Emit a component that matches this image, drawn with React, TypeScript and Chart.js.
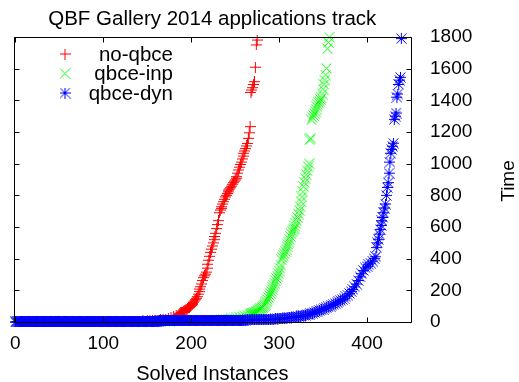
import React, { useEffect, useRef } from "react";
import { Chart, registerables } from "chart.js";

Chart.register(...registerables);

const FONT = '"Liberation Sans", Arial, Helvetica, sans-serif';

const chartTitle = "QBF Gallery 2014 applications track";
const xAxisTitle = "Solved Instances";
const yAxisTitle = "Time";
const xTickValues = [0, 100, 200, 300, 400];
const yTickValues = [0, 200, 400, 600, 800, 1000, 1200, 1400, 1600, 1800];
const xMin = -2;
const xMax = 450;
const yMin = 0;
const yMax = 1800;

const seriesNames = ["no-qbce", "qbce-inp", "qbce-dyn"];
const seriesColors = ["#ff0000", "#00ff00", "#0000ff"];

const noQbceX = [
  0, 5, 10, 15, 20, 25, 30, 35, 40, 45, 50, 55, 60, 65, 70, 75, 80, 85, 90, 95,
  100, 105, 110, 115, 120, 125, 130, 135, 140, 145,
  150, 153, 156, 159, 162, 165, 168, 171, 174, 177, 180, 183,
  185, 186, 187, 188, 189, 190, 191, 192, 193, 194, 195, 196, 197, 198, 199,
  200, 201, 202, 203, 204, 205, 206, 207, 208, 209,
  210, 211, 212, 213, 214, 215, 216, 217, 218, 219,
  220, 221, 222, 223, 224, 225, 226, 227, 228, 229,
  230, 231, 232, 233, 234, 235, 236, 237, 238, 239,
  240, 241, 242, 243, 244, 245, 246, 247, 248, 249,
  250, 251, 252, 253, 254, 255, 256, 257, 258, 259,
  260, 261, 262, 263, 264, 265, 266, 267, 268, 269,
  270, 271, 272, 273, 274, 275,
];
const noQbceY = [
  0.1, 0.2, 0.2, 0.3, 0.4, 0.5, 0.6, 0.7, 0.8, 1.0, 1.1, 1.3, 1.5, 1.7, 1.9, 2.1, 2.3, 2.5, 2.8, 3.0,
  3.3, 3.6, 3.9, 4.2, 4.5, 4.9, 5.3, 5.7, 6.1, 6.6,
  8, 9, 10, 11, 12, 14, 15, 18, 22, 28, 33, 39,
  44, 48, 52, 57, 60, 63, 67, 71, 75, 79, 82, 85, 89, 93, 97,
  104, 110, 118, 125, 133, 141, 150, 160, 176, 192,
  208, 223, 240, 262, 280, 292, 302, 315, 340, 365,
  390, 415, 440, 460, 480, 500, 520, 540, 560, 590,
  615, 640, 690, 707, 718, 728, 745, 760, 775, 790,
  800, 812, 822, 833, 840, 848, 858, 870, 880, 890,
  898, 908, 918, 940, 960, 978, 995, 1010, 1030, 1048,
  1066, 1080, 1095, 1112, 1128, 1160, 1195, 1234, 1450, 1465,
  1480, 1500, 1518, 1609, 1750, 1781,
];

const qbceInpX = [
  0, 5, 10, 15, 20, 25, 30, 35, 40, 45, 50, 55, 60, 65, 70, 75, 80, 85, 90, 95,
  100, 105, 110, 115, 120, 125, 130, 135, 140, 145, 150, 155, 160, 165, 170, 175, 180, 185, 190, 195,
  200, 205, 210, 215, 220, 225, 230,
  234, 237, 240, 243, 246, 249, 252, 255, 258, 261, 264, 267,
  268, 269, 270, 271, 272, 273, 274, 275, 276, 277,
  278, 279, 280, 281, 282, 283, 284, 285, 286, 287,
  288, 289, 290, 291, 292, 293, 294, 295, 296, 297,
  298, 299, 300, 301, 302, 303, 304, 305, 306, 307,
  308, 309, 310, 311, 312, 313, 314, 315, 316, 317,
  318, 319, 320, 321, 322, 323, 324, 325, 326, 327,
  328, 329, 330, 331, 332, 333, 334, 335, 336, 337,
  338, 339, 340, 341, 342, 343, 344, 345, 346, 347,
  348, 349, 350, 351, 352, 353, 354, 355, 356, 357,
];
const qbceInpY = [
  0.1, 0.1, 0.2, 0.2, 0.3, 0.3, 0.4, 0.5, 0.5, 0.6, 0.7, 0.8, 0.9, 1.0, 1.1, 1.2, 1.3, 1.5, 1.6, 1.8,
  2.0, 2.2, 2.4, 2.6, 2.8, 3.0, 3.3, 3.6, 3.9, 4.2, 4.5, 4.8, 5.1, 5.5, 5.9, 6.3, 6.7, 7.1, 7.5, 8.0,
  8.5, 9.0, 9.5, 10, 10.5, 11, 11.5,
  13, 14, 16, 18, 20, 23, 26, 30, 35, 39, 44, 48,
  50, 52, 53, 55, 58, 62, 65, 68, 71, 75,
  79, 83, 87, 92, 97, 105, 112, 121, 130, 142,
  155, 168, 181, 193, 206, 218, 232, 246, 260, 275,
  290, 306, 322, 340, 360, 392, 405, 418, 430, 445,
  460, 476, 490, 505, 520, 540, 556, 570, 582, 592,
  602, 620, 640, 660, 682, 705, 728, 760, 790, 822,
  855, 880, 905, 930, 955, 980, 1000, 1150, 1160, 1276,
  1290, 1305, 1318, 1332, 1345, 1360, 1372, 1385, 1395, 1405,
  1415, 1440, 1470, 1500, 1528, 1560, 1602, 1725, 1765, 1799,
];

const qbceDynX = [
  0, 1, 2, 3, 4, 5, 6, 7, 8, 9,
  10, 11, 12, 13, 14, 15, 16, 17, 18, 19,
  20, 21, 22, 23, 24, 25, 26, 27, 28, 29,
  30, 31, 32, 33, 34, 35, 36, 37, 38, 39,
  40, 41, 42, 43, 44, 45, 46, 47, 48, 49,
  50, 51, 52, 53, 54, 55, 56, 57, 58, 59,
  60, 61, 62, 63, 64, 65, 66, 67, 68, 69,
  70, 71, 72, 73, 74, 75, 76, 77, 78, 79,
  80, 81, 82, 83, 84, 85, 86, 87, 88, 89,
  90, 91, 92, 93, 94, 95, 96, 97, 98, 99,
  100, 101, 102, 103, 104, 105, 106, 107, 108, 109,
  110, 111, 112, 113, 114, 115, 116, 117, 118, 119,
  120, 121, 122, 123, 124, 125, 126, 127, 128, 129,
  130, 131, 132, 133, 134, 135, 136, 137, 138, 139,
  140, 141, 142, 143, 144, 145, 146, 147, 148, 149,
  150, 151, 152, 153, 154, 155, 156, 157, 158, 159,
  160, 161, 162, 163, 164, 165, 166, 167, 168, 169,
  170, 171, 172, 173, 174, 175, 176, 177, 178, 179,
  180, 181, 182, 183, 184, 185, 186, 187, 188, 189,
  190, 191, 192, 193, 194, 195, 196, 197, 198, 199,
  200, 201, 202, 203, 204, 205, 206, 207, 208, 209,
  210, 211, 212, 213, 214, 215, 216, 217, 218, 219,
  220, 221, 222, 223, 224, 225, 226, 227, 228, 229,
  230, 231, 232, 233, 234, 235, 236, 237, 238, 239,
  240, 241, 242, 243, 244, 245, 246, 247, 248, 249,
  250, 251, 252, 253, 254, 255, 256, 257, 258, 259, 260,
  262, 264, 266, 268, 270, 272, 274, 276, 278, 280,
  282, 284, 286, 288, 290, 292, 294, 296, 298, 300,
  302, 304, 306, 308, 310, 312, 314, 316, 318, 320,
  322, 324, 326, 328, 330, 332, 334, 336, 338, 340,
  342, 344, 346, 348, 350, 352, 354, 356, 358, 360,
  362, 364, 366, 368, 370, 372, 374, 376, 378, 380,
  382, 384, 386, 388, 390, 392, 394, 396, 398, 400,
  402, 404, 406, 408, 410,
  411, 412, 413, 414, 415, 416, 417, 418, 419, 420,
  421, 422, 423, 424, 425, 426, 427, 428, 429, 430,
  431, 432, 433, 434, 435, 436, 437, 438, 439,
];
const qbceDynY = [
  0.02, 0.02, 0.03, 0.03, 0.03, 0.03, 0.04, 0.04, 0.04, 0.04,
  0.05, 0.05, 0.05, 0.05, 0.06, 0.06, 0.06, 0.06, 0.07, 0.07,
  0.07, 0.07, 0.08, 0.08, 0.08, 0.09, 0.09, 0.1, 0.1, 0.1,
  0.1, 0.11, 0.11, 0.12, 0.12, 0.13, 0.13, 0.14, 0.14, 0.15,
  0.15, 0.16, 0.16, 0.17, 0.17, 0.18, 0.18, 0.19, 0.19, 0.2,
  0.2, 0.21, 0.22, 0.23, 0.24, 0.25, 0.26, 0.27, 0.28, 0.29,
  0.3, 0.31, 0.32, 0.33, 0.34, 0.35, 0.36, 0.37, 0.38, 0.39,
  0.4, 0.42, 0.43, 0.45, 0.46, 0.48, 0.5, 0.52, 0.54, 0.56,
  0.58, 0.6, 0.62, 0.64, 0.66, 0.68, 0.7, 0.72, 0.75, 0.78,
  0.8, 0.83, 0.85, 0.88, 0.9, 0.92, 0.95, 0.97, 1.0, 1.05,
  1.1, 1.15, 1.2, 1.25, 1.3, 1.35, 1.4, 1.45, 1.5, 1.55,
  1.6, 1.65, 1.7, 1.75, 1.8, 1.85, 1.9, 1.95, 2.0, 2.05,
  2.1, 2.15, 2.2, 2.3, 2.4, 2.5, 2.6, 2.7, 2.8, 2.9,
  3.0, 3.1, 3.2, 3.3, 3.4, 3.5, 3.6, 3.7, 3.8, 3.9,
  4.0, 4.1, 4.2, 4.3, 4.4, 4.5, 4.6, 4.7, 4.8, 4.9,
  5.0, 5.1, 5.2, 5.3, 5.4, 5.5, 5.6, 5.7, 5.8, 5.9,
  6.0, 6.1, 6.2, 6.3, 6.4, 6.5, 6.6, 6.7, 6.8, 6.9,
  7.0, 7.1, 7.2, 7.3, 7.4, 7.5, 7.6, 7.7, 7.8, 7.9,
  8.0, 8.1, 8.2, 8.3, 8.4, 8.5, 8.6, 8.7, 8.8, 8.9,
  9.0, 9.05, 9.1, 9.15, 9.2, 9.25, 9.3, 9.35, 9.4, 9.45,
  9.5, 9.55, 9.6, 9.65, 9.7, 9.75, 9.8, 9.85, 9.9, 9.95,
  10.0, 10.05, 10.1, 10.15, 10.2, 10.25, 10.3, 10.35, 10.4, 10.45,
  10.5, 10.55, 10.6, 10.65, 10.7, 10.75, 10.8, 10.85, 10.9, 10.95,
  11.0, 11.05, 11.1, 11.15, 11.2, 11.25, 11.3, 11.35, 11.4, 11.45,
  11.5, 11.55, 11.6, 11.65, 11.7, 11.75, 11.8, 11.85, 11.9, 11.95,
  12.0, 12.05, 12.1, 12.15, 12.2, 12.25, 12.3, 12.35, 12.4, 12.45, 12.5,
  12.6, 12.7, 12.9, 13, 13.2, 13.4, 13.6, 13.8, 14, 14.5,
  15, 15.5, 16, 16.5, 17, 18, 18.5, 19, 20, 21,
  22, 23, 24, 25, 26, 27, 28, 30, 31, 33,
  35, 37, 39, 41, 43, 46, 49, 52, 56, 60,
  64, 68, 72, 76, 80, 85, 90, 95, 100, 105,
  110, 116, 122, 128, 135, 142, 150, 160, 170, 180,
  192, 205, 222, 240, 262, 285, 305, 325, 342, 352,
  362, 372, 385, 400, 412,
  470, 500, 520, 555, 585, 610, 640, 660, 690, 720,
  745, 800, 850, 880, 940, 1010, 1066, 1090, 1110, 1129,
  1280, 1300, 1320, 1420, 1440, 1500, 1528, 1545, 1790,
];

const seriesX = [noQbceX, qbceInpX, qbceDynX];
const seriesY = [noQbceY, qbceInpY, qbceDynY];
const markerKinds = ["plus", "cross", "star"];

function makeMarker(kind: string, color: string): HTMLCanvasElement {
  const s = 11;
  const c = document.createElement("canvas");
  c.width = s;
  c.height = s;
  const g = c.getContext("2d")!;
  g.strokeStyle = color;
  g.lineWidth = 1;
  g.beginPath();
  if (kind === "plus" || kind === "star") {
    g.moveTo(0, 5.5);
    g.lineTo(11, 5.5);
    g.moveTo(5.5, 0);
    g.lineTo(5.5, 11);
  }
  if (kind === "cross" || kind === "star") {
    g.moveTo(0.5, 0.5);
    g.lineTo(10.5, 10.5);
    g.moveTo(10.5, 0.5);
    g.lineTo(0.5, 10.5);
  }
  g.stroke();
  return c;
}

export default function App() {
  const ref = useRef<HTMLCanvasElement | null>(null);

  useEffect(() => {
    document.body.style.margin = "0";
    const canvas = ref.current;
    if (!canvas) return;
    const markers = seriesColors.map((col, i) => makeMarker(markerKinds[i], col));

    const decor = {
      id: "decor",
      afterDatasetsDraw(chart: any) {
        const { ctx, chartArea: a, scales } = chart;
        ctx.save();
        ctx.strokeStyle = "#000";
        ctx.lineWidth = 1;
        const L = Math.round(a.left) + 0.5;
        const R = Math.round(a.right) + 0.5;
        const T = Math.round(a.top) + 0.5;
        const B = Math.round(a.bottom) + 0.5;
        ctx.beginPath();
        ctx.rect(L, T, R - L, B - T);
        const tl = 5;
        for (const v of xTickValues) {
          const px = Math.round(scales.x.getPixelForValue(v)) + 0.5;
          ctx.moveTo(px, B);
          ctx.lineTo(px, B - tl);
          ctx.moveTo(px, T);
          ctx.lineTo(px, T + tl);
        }
        for (const v of yTickValues) {
          const py = Math.round(scales.y.getPixelForValue(v)) + 0.5;
          ctx.moveTo(L, py);
          ctx.lineTo(L + tl, py);
          ctx.moveTo(R, py);
          ctx.lineTo(R - tl, py);
        }
        ctx.stroke();

        ctx.fillStyle = "#000";
        ctx.font = `20.5px ${FONT}`;
        ctx.textAlign = "center";
        ctx.textBaseline = "alphabetic";
        const cx = (a.left + a.right) / 2;
        ctx.fillText(chartTitle, cx, 25);
        ctx.font = `20px ${FONT}`;
        ctx.fillText(xAxisTitle, cx, 380);

        ctx.save();
        ctx.translate(514, 181);
        ctx.rotate(-Math.PI / 2);
        ctx.font = `19px ${FONT}`;
        ctx.fillText(yAxisTitle, 0, 0);
        ctx.restore();

        // legend
        const rowsY = [54, 73.5, 93];
        ctx.font = `20.5px ${FONT}`;
        ctx.textAlign = "right";
        ctx.textBaseline = "middle";
        seriesNames.forEach((name, i) => {
          const m = markers[i];
          ctx.drawImage(m, 65 - m.width / 2, rowsY[i] - m.height / 2);
          ctx.fillText(name, 173, rowsY[i] + 1);
        });
        ctx.restore();
      },
    };

    const datasets = seriesNames.map((name, i) => ({
      label: name,
      data: seriesX[i].map((x, j) => ({ x, y: seriesY[i][j] })),
      showLine: false,
      pointStyle: markers[i],
      pointRadius: 5,
      pointHoverRadius: 5,
      borderColor: seriesColors[i],
      backgroundColor: seriesColors[i],
      clip: false as any,
      order: 3 - i,
    }));

    const chart = new Chart(canvas, {
      type: "scatter",
      data: { datasets },
      options: {
        animation: false,
        responsive: false,
        devicePixelRatio: 1,
        events: [],
        layout: { padding: { left: 12, top: 37, right: 0, bottom: 0 } },
        plugins: {
          legend: { display: false },
          title: { display: false },
          tooltip: { enabled: false },
        },
        scales: {
          x: {
            type: "linear",
            position: "bottom",
            min: xMin,
            max: xMax,
            grid: { display: false, drawTicks: false },
            border: { display: false },
            afterBuildTicks: (axis: any) => {
              axis.ticks = xTickValues.map((v) => ({ value: v }));
            },
            afterFit: (axis: any) => {
              axis.height = 60;
            },
            ticks: {
              color: "#000",
              font: { family: FONT, size: 19 },
              padding: 10,
              maxRotation: 0,
              autoSkip: false,
              callback: (v: any) => String(v),
            },
          },
          y: {
            type: "linear",
            position: "right",
            min: yMin,
            max: yMax,
            grid: { display: false, drawTicks: false },
            border: { display: false },
            afterBuildTicks: (axis: any) => {
              axis.ticks = yTickValues.map((v) => ({ value: v }));
            },
            afterFit: (axis: any) => {
              axis.width = 108;
            },
            ticks: {
              color: "#000",
              font: { family: FONT, size: 19 },
              padding: 19,
              crossAlign: "near",
              autoSkip: false,
              callback: (v: any) => String(v),
            },
          },
        },
      },
      plugins: [decor],
    });

    return () => {
      chart.destroy();
    };
  }, []);

  return (
    <div style={{ position: "fixed", left: 0, top: 0, width: 519, height: 382, background: "#fff" }}>
      <canvas ref={ref} width={519} height={382} style={{ display: "block", width: 519, height: 382 }} />
    </div>
  );
}
